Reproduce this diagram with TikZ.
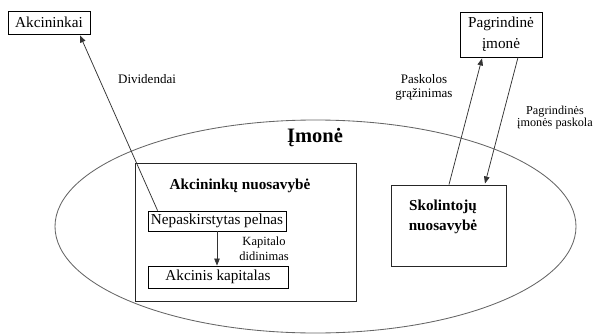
\documentclass[tikz,border=0pt]{standalone}
\usepackage{fontspec}
\setmainfont{Liberation Serif}
\usetikzlibrary{arrows.meta,calc}
\tikzset{
  box/.style={draw=black, line width=0.8pt, inner sep=0pt, font=\fontsize{15.2}{16}\selectfont},
  frame/.style={draw=black!85, line width=0.95pt, inner sep=0pt},
  lbl/.style={inner sep=0pt, align=center, font=\fontsize{12.5}{15}\selectfont},
  head/.style={font=\bfseries\fontsize{15.2}{20}\selectfont, inner sep=0pt, align=center},
  flow/.style={draw=black!80, line width=0.75pt, -{Triangle[length=7pt,width=5.5pt]}},
}
\begin{document}
\begin{tikzpicture}[x=1pt,y=-1pt]
\useasboundingbox (0,0) rectangle (594,334);
% company ellipse
\draw[black!60, line width=0.85pt] (315.5,226.5) ellipse [x radius=260.5, y radius=106.5];
\node[font=\bfseries\fontsize{20.5}{24}\selectfont, inner sep=0pt] (firm) at (315,138) {Įmonė};

% shareholders' equity block
\node[frame, minimum width=221pt, minimum height=138pt] (eq) at (245.5,232) {};
\node[head] (eqt) at (240,186) {Akcininkų nuosavybė};
\node[box, minimum width=138pt, minimum height=20pt] (np) at (217,221) {Nepaskirstytas pelnas};
\node[box, minimum width=140pt, minimum height=22pt] (ak) at (218,277) {Akcinis kapitalas};
\node[lbl] (kd) at (264,248.5) {Kapitalo\\didinimas};

% creditors' equity block
\node[frame, minimum width=115pt, minimum height=81pt] (sk) at (448.5,225.5) {};
\node[head] (skt) at (443,217) {Skolintojų\\nuosavybė};

% outside parties
\node[box, minimum width=82pt, minimum height=23pt] (akc) at (49,22.5) {Akcininkai};
\node[box, minimum width=82pt, minimum height=45pt, align=center, font=\fontsize{15.2}{21}\selectfont] (pi) at (501,34.5) {Pagrindinė\\įmonė};

% flow labels
\node[lbl, font=\fontsize{13}{14}\selectfont] (div) at (147,79) {Dividendai};
\node[lbl, font=\fontsize{13}{14}\selectfont] (pg) at (424,87) {Paskolos\\grąžinimas};
\node[lbl, font=\fontsize{12.2}{11}\selectfont] (pp) at (555,117.5) {Pagrindinės\\įmonės paskola};

% flows
\draw[flow] ($(np.north west)+(10,0)$) -- ($(akc.south)+(31,1)$);
\draw[flow] (np.south) -- (ak.north -| np.south);
\draw[flow] ($(sk.north)+(0.5,0)$) -- ($(pi.south)+(-19,1)$);
\draw[flow] ($(pi.south)+(17,0)$) -- ($(sk.north)+(36.5,-1)$);
\end{tikzpicture}
\end{document}
